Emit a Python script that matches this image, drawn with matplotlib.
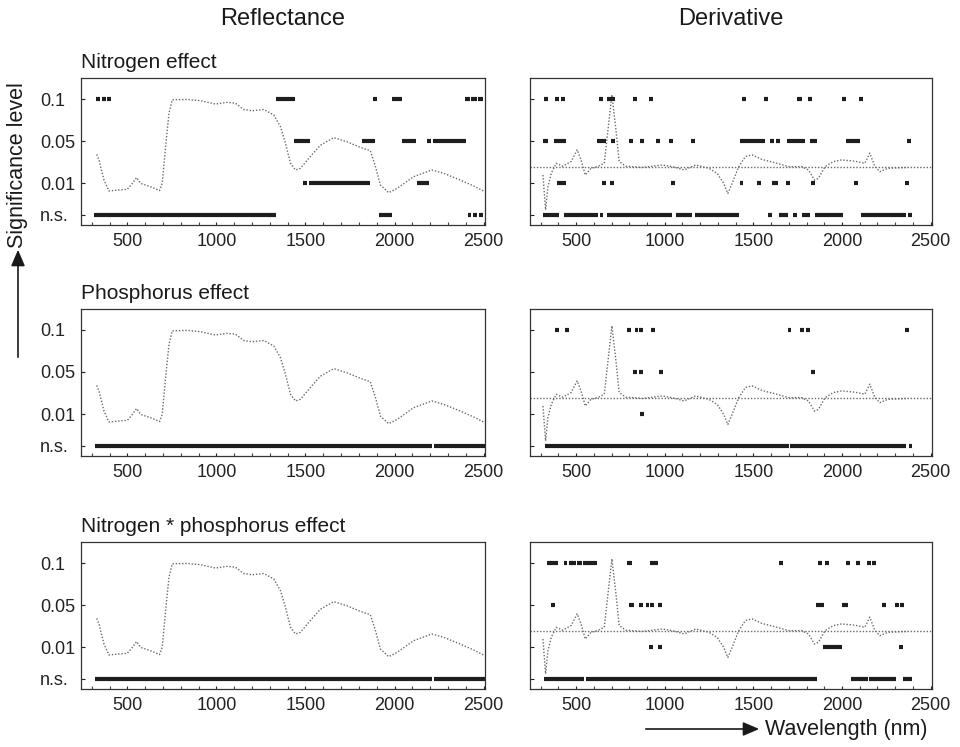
import matplotlib
matplotlib.use("Agg")
import matplotlib.pyplot as plt
from matplotlib.ticker import MultipleLocator

plt.rcParams['font.family'] = ['Liberation Sans', 'DejaVu Sans']

# significance levels and the row each one is drawn on
level_names = ['n.s.', '0.01', '0.05', '0.1']
level_rows = [0.24, 1, 2, 3]

# mean reflectance spectrum, scaled onto the significance axis
refl_wl = [328, 341, 369, 397, 444, 500, 528, 552, 575, 631, 681, 696, 715, 734, 752,
           836, 911, 995, 1061, 1107, 1154, 1201, 1266, 1322, 1360, 1388, 1416, 1444,
           1472, 1519, 1584, 1659, 1734, 1808, 1864, 1893, 1921, 1967, 2014, 2107,
           2210, 2276, 2369, 2444, 2500]
refl_val = [1.68, 1.55, 1.07, 0.81, 0.83, 0.85, 0.99, 1.13, 0.99, 0.91, 0.82, 0.99, 1.87,
            2.66, 2.98, 2.99, 2.96, 2.88, 2.92, 2.90, 2.75, 2.72, 2.75, 2.62, 2.34, 1.94,
            1.47, 1.31, 1.35, 1.59, 1.90, 2.08, 1.98, 1.85, 1.77, 1.39, 0.95, 0.77, 0.87,
            1.15, 1.31, 1.23, 1.07, 0.93, 0.81]

# first derivative of the spectrum, same scaling
deriv_wl = [313, 328, 341, 360, 388, 425, 472, 506, 528, 552, 584, 622, 659, 682, 702,
            725, 743, 781, 875, 987, 1062, 1109, 1174, 1249, 1296, 1333, 1356, 1380,
            1418, 1455, 1493, 1549, 1624, 1699, 1773, 1811, 1845, 1867, 1905, 1951,
            1998, 2073, 2129, 2157, 2185, 2213, 2260, 2373]
deriv_val = [1.19, 0.36, 0.91, 1.23, 1.47, 1.40, 1.51, 1.79, 1.55, 1.19, 1.35, 1.39, 1.47,
             2.34, 3.10, 2.26, 1.51, 1.40, 1.37, 1.43, 1.37, 1.31, 1.43, 1.35, 1.23, 0.99,
             0.75, 0.99, 1.39, 1.63, 1.67, 1.56, 1.48, 1.39, 1.39, 1.31, 1.07, 1.11, 1.39,
             1.51, 1.55, 1.52, 1.47, 1.71, 1.40, 1.27, 1.35, 1.37]
deriv_zero = 1.37

# significant wavebands (start, end) in nm; single numbers are single bands
n_refl_ns = [(313, 1332), (1911, 1986), 2421, 2453, 2485]
n_refl_01 = [1496, (1519, 1861), (2126, 2195)]
n_refl_05 = [(1435, 1524), (1818, 1889), (2042, 2122), 2194, (2214, 2403)]
n_refl_10 = [336, 369, 397, (1332, 1444), 1893, (1986, 2042),
             (2397, 2425), (2432, 2462), (2468, 2496)]

n_der_ns = [(313, 403), (434, 622), (635, 650), (672, 1039), (1062, 1152), (1170, 1421),
            (1582, 1605), (1642, 1698), 1736, (1773, 1820), (1848, 2007), (2110, 2363), 2386]
n_der_01 = [(393, 444), 655, 702, 1049, 1433, 1534, (1605, 1639), 1698, 1835, 2079, 2367]
n_der_05 = [(313, 341), (378, 444), (616, 669), 706, 809, 871, 963, 1037, 1159,
            (1423, 1567), 1605, 1639, (1689, 1792), (1820, 1858), (2022, 2101), 2376]
n_der_10 = [328, 393, 425, (631, 654), 687, 710, 833, 921, 1448, 1573, (1745, 1773),
            1820, 2011, 2107]

p_refl_ns = [(320, 2210), (2219, 2510)]
p_refl_01 = []
p_refl_05 = []
p_refl_10 = []

p_der_ns = [(324, 1700), (1708, 2360), (2378, 2397)]
p_der_01 = [871]
p_der_05 = [833, 865, 979, 1839]
p_der_10 = [393, 449, (787, 809), (833, 848), 867, 933, 1704, 1773, 1809, (2356, 2378)]

np_refl_ns = [(320, 2210), (2219, 2510)]
np_refl_01 = []
np_refl_05 = []
np_refl_10 = []

np_der_ns = [(318, 547), (556, 1858), (2051, 2148), (2154, 2307), (2345, 2395)]
np_der_01 = [921, 974, (1895, 1998), 2335]
np_der_05 = [369, (796, 828), 865, 903, 927, 974, (1852, 1901), (1998, 2032), 2238,
             2311, 2341]
np_der_10 = [346, 365, 388, 440, 472, 487, (504, 534), (541, 616), (790, 818), (916, 964),
             1655, 1876, 1914, 2036, 2088, 2154, 2182]

row_titles = ['Nitrogen effect', 'Phosphorus effect', 'Nitrogen * phosphorus effect']
col_titles = ['Reflectance', 'Derivative']

panels = [
    [[n_refl_ns, n_refl_01, n_refl_05, n_refl_10], [n_der_ns, n_der_01, n_der_05, n_der_10]],
    [[p_refl_ns, p_refl_01, p_refl_05, p_refl_10], [p_der_ns, p_der_01, p_der_05, p_der_10]],
    [[np_refl_ns, np_refl_01, np_refl_05, np_refl_10],
     [np_der_ns, np_der_01, np_der_05, np_der_10]],
]

W, H = 960, 747
fig = plt.figure(figsize=(W / 100, H / 100), dpi=100)

col_left = [81, 530]
col_width = [404, 402]
row_top = [78, 309, 542]
row_height = 147

DOT = 11  # half width of a single band, nm
curve_style = dict(color='#6a6a6a', lw=1.0, ls=(0, (1, 1.3)))
bar_color = '#1e1e1e'


def drawBands(ax, bands, y):
    for b in bands:
        if isinstance(b, tuple):
            lo, hi = b
        else:
            lo, hi = b - DOT, b + DOT
        ax.hlines(y, lo, hi, colors=bar_color, lw=3.0, capstyle='butt')


for r in range(3):
    for c in range(2):
        x0 = col_left[c] / W
        y0 = 1 - (row_top[r] + row_height) / H
        ax = fig.add_axes([x0, y0, col_width[c] / W, row_height / H])

        if c == 0:
            ax.plot(refl_wl, refl_val, **curve_style)
        else:
            ax.axhline(deriv_zero, **curve_style)
            ax.plot(deriv_wl, deriv_val, **curve_style)

        for bands, y in zip(panels[r][c], level_rows):
            drawBands(ax, bands, y)

        ax.set_xlim(240, 2508)
        ax.set_ylim(0, 3.5)
        ax.set_xticks([500, 1000, 1500, 2000, 2500])
        ax.xaxis.set_minor_locator(MultipleLocator(100))
        ax.set_yticks(level_rows)
        ax.set_yticklabels(level_names)
        ax.tick_params(axis='x', which='major', direction='in', length=2.5, width=0.8,
                       labelsize=13, pad=6, colors='#222222')
        ax.tick_params(axis='x', which='minor', direction='in', length=2, width=0.8,
                       colors='#444444')
        ax.tick_params(axis='y', direction='in', length=3, width=0.8, labelsize=13,
                       pad=29.5, colors='#222222')
        if c == 0:
            for lab in ax.get_yticklabels():
                lab.set_horizontalalignment('left')
        else:
            ax.tick_params(axis='y', labelleft=False)
        for sp in ax.spines.values():
            sp.set_color('#333333')
            sp.set_linewidth(0.9)

        if c == 0:
            ax.set_title(row_titles[r], loc='left', fontsize=15, pad=7, color='#1a1a1a')

# column headers
for c in range(2):
    xc = (col_left[c] + col_width[c] / 2) / W
    fig.text(xc, 1 - 19 / H, col_titles[c], ha='center', va='center', fontsize=17,
             color='#1a1a1a')

# y-axis arrow and label
fig.text(18 / W, 1 - 165 / H, 'Significance level', rotation=90, ha='center',
         va='center', fontsize=15.5, color='#1a1a1a')
fig.add_artist(matplotlib.patches.FancyArrowPatch(
    (18 / W, 1 - 360 / H), (18 / W, 1 - 247 / H), transform=fig.transFigure,
    arrowstyle='-|>,head_length=0.7,head_width=0.3', mutation_scale=14,
    color='#1a1a1a', lw=1.2))

# x-axis arrow and label
fig.add_artist(matplotlib.patches.FancyArrowPatch(
    (643 / W, 1 - 729 / H), (762 / W, 1 - 729 / H), transform=fig.transFigure,
    arrowstyle='-|>,head_length=0.7,head_width=0.3', mutation_scale=14,
    color='#1a1a1a', lw=1.2))
fig.text(765 / W, 1 - 730 / H, 'Wavelength (nm)', ha='left', va='center', fontsize=15.5,
         color='#1a1a1a')

fig.savefig('out.png', dpi=100)
